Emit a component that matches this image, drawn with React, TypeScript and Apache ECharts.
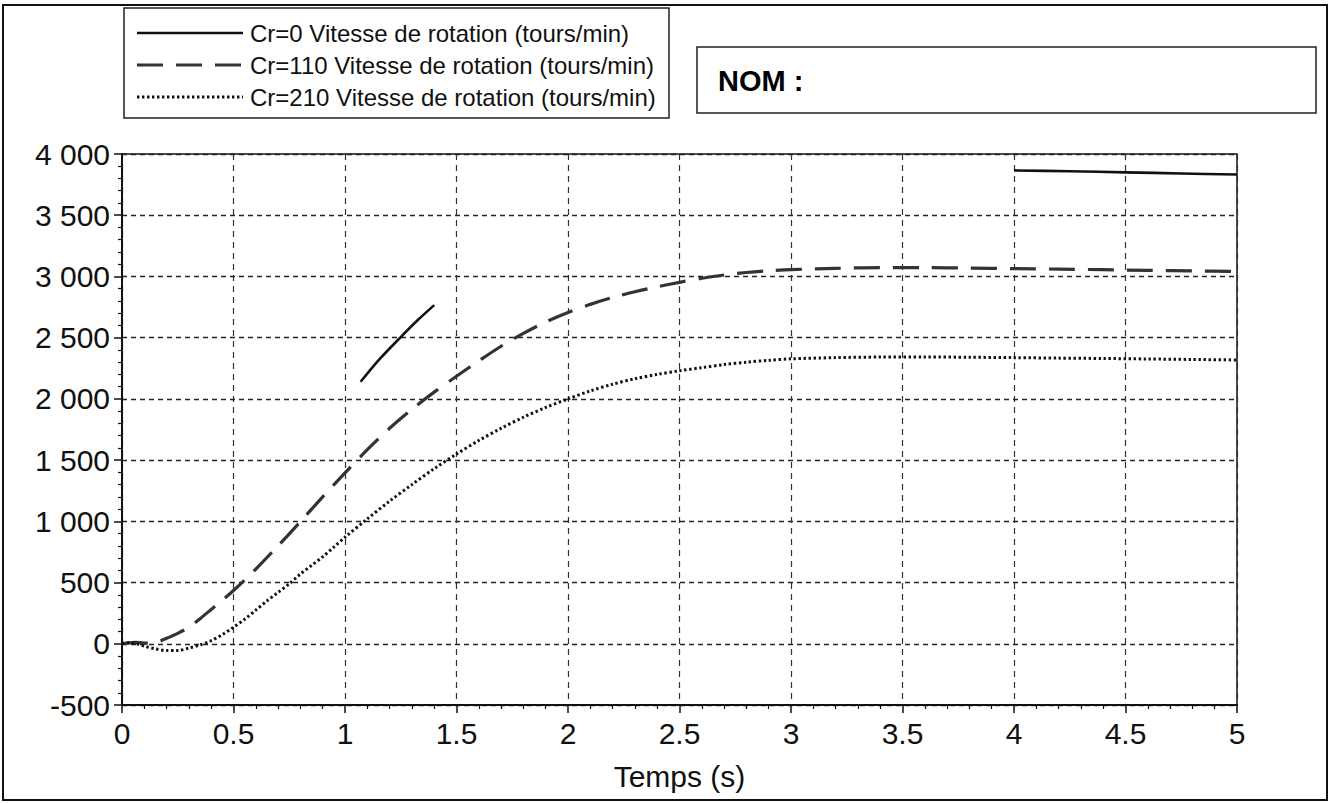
import React, { useEffect, useRef } from "react";
import * as echarts from "echarts";

const legendLabels = [
  "Cr=0 Vitesse de rotation (tours/min)",
  "Cr=110 Vitesse de rotation (tours/min)",
  "Cr=210 Vitesse de rotation (tours/min)",
];
const nameLabel = "NOM :";
const xTitle = "Temps (s)";

// Cr=0 : two visible pieces
const cr0SegA: [number, number][] = [
  [1.07, 2140], [1.15, 2315], [1.25, 2505], [1.33, 2650], [1.4, 2766],
];
const cr0SegB: [number, number][] = [
  [4.0, 3866], [4.25, 3859], [4.5, 3850], [4.75, 3841], [5.0, 3832],
];

const cr110: [number, number][] = [
  [0, 0], [0.03, 8], [0.06, 12], [0.1, 6], [0.15, 10], [0.2, 45], [0.25, 85],
  [0.3, 135], [0.35, 205], [0.4, 280], [0.45, 355], [0.5, 435], [0.55, 520],
  [0.6, 610], [0.7, 800], [0.8, 997], [0.9, 1200], [1.0, 1395], [1.1, 1585],
  [1.2, 1760], [1.3, 1915], [1.4, 2055], [1.5, 2185], [1.6, 2310], [1.7, 2430],
  [1.8, 2535], [1.9, 2628], [2.0, 2705], [2.1, 2772], [2.2, 2828], [2.3, 2875],
  [2.4, 2915], [2.5, 2952], [2.6, 2985], [2.7, 3012], [2.8, 3032], [2.9, 3046],
  [3.0, 3056], [3.2, 3066], [3.4, 3072], [3.6, 3072], [3.8, 3068], [4.0, 3064],
  [4.2, 3060], [4.4, 3055], [4.6, 3050], [4.8, 3045], [5.0, 3040],
];

const cr210: [number, number][] = [
  [0, 0], [0.03, 8], [0.06, 2], [0.1, -20], [0.15, -42], [0.2, -55], [0.25, -55],
  [0.3, -35], [0.35, -10], [0.4, 25], [0.45, 75], [0.5, 135], [0.55, 200],
  [0.6, 275], [0.65, 350], [0.7, 420], [0.75, 490], [0.8, 570], [0.85, 640],
  [0.9, 710], [0.95, 790], [1.0, 870], [1.1, 1020], [1.2, 1165], [1.3, 1300],
  [1.4, 1430], [1.5, 1550], [1.6, 1660], [1.7, 1760], [1.8, 1850], [1.9, 1930],
  [2.0, 2000], [2.1, 2065], [2.2, 2120], [2.3, 2165], [2.4, 2200], [2.5, 2230],
  [2.6, 2255], [2.7, 2280], [2.8, 2300], [2.9, 2315], [3.0, 2327], [3.2, 2337],
  [3.4, 2342], [3.6, 2343], [3.8, 2340], [4.0, 2337], [4.2, 2333], [4.4, 2330],
  [4.6, 2326], [4.8, 2322], [5.0, 2318],
];

const FONT = "'Liberation Sans', Arial, sans-serif";

const solidStyle = { color: "#111", width: 2.6, type: "solid" as const };
const dashStyle = { color: "#333", width: 3.2, type: [26, 13] as number[] };
const dotStyle = { color: "#111", width: 3, type: [2.4, 2.6] as number[] };

function fmtThousands(v: number): string {
  const s = String(Math.abs(v)).replace(/\B(?=(\d{3})+(?!\d))/g, " ");
  return (v < 0 ? "-" : "") + s;
}

export default function App() {
  const ref = useRef<HTMLDivElement>(null);
  useEffect(() => {
    document.body.style.margin = "0";
    if (!ref.current) return;
    const chart = echarts.init(ref.current, undefined, { renderer: "svg" });
    const lineSeries = (name: string, data: [number, number][], ls: any) => ({
      name,
      type: "line",
      data,
      showSymbol: false,
      symbol: "none",
      smooth: 0.3,
      lineStyle: ls,
      z: 5,
    });
    const legendRows = [solidStyle, dashStyle, dotStyle];
    const graphic: any[] = [
      {
        type: "rect",
        shape: { x: 3, y: 5, width: 1324, height: 795 },
        style: { fill: "none", stroke: "#111", lineWidth: 2 },
        z: 10,
      },
      {
        type: "rect",
        shape: { x: 124, y: 8, width: 545, height: 110 },
        style: { fill: "#fff", stroke: "#222", lineWidth: 1.5 },
        z: 10,
      },
      {
        type: "rect",
        shape: { x: 697, y: 47, width: 619, height: 66 },
        style: { fill: "#fff", stroke: "#222", lineWidth: 1.5 },
        z: 10,
      },
      {
        type: "text",
        x: 718,
        y: 81,
        style: {
          text: nameLabel,
          font: `bold 29px ${FONT}`,
          fill: "#000",
          verticalAlign: "middle",
        },
        z: 11,
      },
    ];
    legendRows.forEach((ls, i) => {
      const y = 33 + i * 32;
      graphic.push({
        type: "line",
        shape: { x1: 137, y1: y, x2: 243, y2: y },
        style: {
          stroke: ls.color,
          lineWidth: ls.width,
          lineDash: Array.isArray(ls.type) ? ls.type : null,
        },
        z: 11,
      });
      graphic.push({
        type: "text",
        x: 250,
        y,
        style: {
          text: legendLabels[i],
          font: `24px ${FONT}`,
          fill: "#111",
          verticalAlign: "middle",
        },
        z: 11,
      });
    });

    chart.setOption({
      animation: false,
      backgroundColor: "#fff",
      grid: {
        left: 122,
        right: 97,
        top: 154,
        bottom: 98,
        show: true,
        borderColor: "#111",
        borderWidth: 1.5,
        containLabel: false,
      },
      xAxis: {
        type: "value",
        min: 0,
        max: 5,
        interval: 0.5,
        name: xTitle,
        nameLocation: "middle",
        nameGap: 56,
        nameTextStyle: { fontFamily: FONT, fontSize: 30, color: "#111" },
        axisLine: { show: true, onZero: false, lineStyle: { color: "#111", width: 2 } },
        axisTick: { show: true, length: 8, lineStyle: { color: "#111", width: 1.5 } },
        minorTick: { show: true, splitNumber: 5, length: 4, lineStyle: { color: "#111", width: 1.2 } },
        axisLabel: { fontFamily: FONT, fontSize: 30, color: "#111", margin: 13 },
        splitLine: { show: true, lineStyle: { color: "#333", width: 1.2, type: [6, 5] } },
      },
      yAxis: {
        type: "value",
        min: -500,
        max: 4000,
        interval: 500,
        axisLine: { show: true, onZero: false, lineStyle: { color: "#111", width: 2 } },
        axisTick: { show: true, length: 8, lineStyle: { color: "#111", width: 1.5 } },
        minorTick: { show: true, splitNumber: 5, length: 4, lineStyle: { color: "#111", width: 1.2 } },
        axisLabel: {
          fontFamily: FONT,
          fontSize: 30,
          color: "#111",
          margin: 12,
          formatter: (v: number) => fmtThousands(v),
        },
        splitLine: { show: true, lineStyle: { color: "#222", width: 1.4, type: [5, 4] } },
      },
      graphic,
      series: [
        lineSeries(legendLabels[0], cr0SegA, solidStyle),
        lineSeries(legendLabels[0] + " ", cr0SegB, solidStyle),
        lineSeries(legendLabels[1], cr110, dashStyle),
        lineSeries(legendLabels[2], cr210, dotStyle),
      ],
    });
    return () => chart.dispose();
  }, []);
  return <div ref={ref} style={{ width: 1334, height: 803 }} />;
}
